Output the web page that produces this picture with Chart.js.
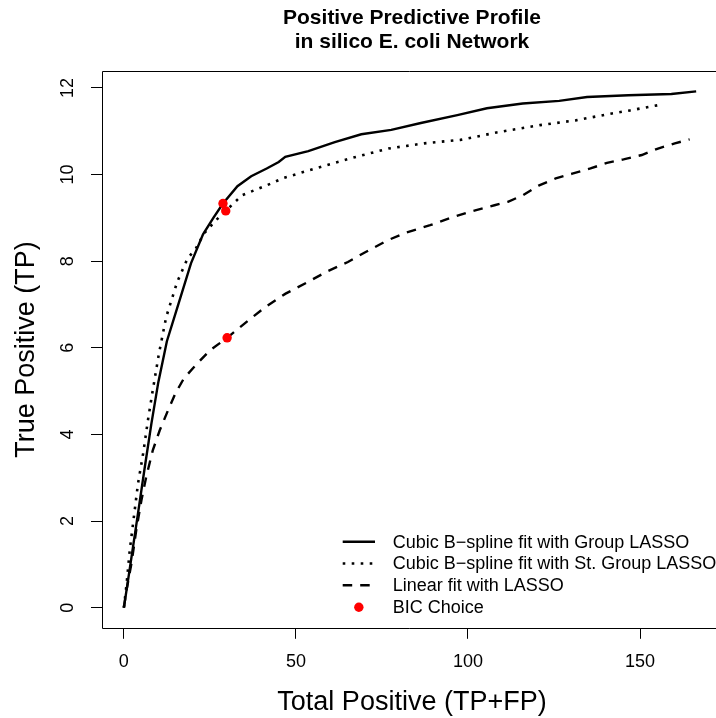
<!DOCTYPE html>
<html><head><meta charset="utf-8">
<script src="https://cdn.jsdelivr.net/npm/chart.js@4/dist/chart.umd.min.js"></script>
<style>html,body{margin:0;padding:0;background:#fff;overflow:hidden}canvas{display:block}</style>
</head><body>
<canvas id="c" width="716" height="718" style="width:716px;height:718px"></canvas>
<script>
const titleLines = ["Positive Predictive Profile", "in silico E. coli Network"];
const xTitle = "Total Positive (TP+FP)";
const yTitle = "True Positive (TP)";
const seriesNames = ["Cubic B\u2212spline fit with Group LASSO", "Cubic B\u2212spline fit with St. Group LASSO", "Linear fit with LASSO", "BIC Choice"];
const xTicks = [0, 50, 100, 150];
const yTicks = [0, 2, 4, 6, 8, 10, 12];

// Cubic B-spline fit with Group LASSO (solid)
const groupX = [0, 1, 2, 4, 6, 8, 10, 12.5, 16, 19.5, 23, 26, 28.8, 33, 37, 41.5, 45, 46.9, 53.6, 61.3, 69, 77.7, 86.3, 96.9, 105.5, 115.9, 126.5, 134.6, 146.6, 159.1, 166.3];
const groupY = [0, 0.52, 1.05, 2.12, 3.2, 4.25, 5.2, 6.15, 7.05, 7.95, 8.62, 9.0, 9.33, 9.73, 9.96, 10.14, 10.29, 10.41, 10.54, 10.75, 10.93, 11.03, 11.19, 11.37, 11.53, 11.64, 11.7, 11.79, 11.83, 11.86, 11.92];

// Cubic B-spline fit with St. Group LASSO (dotted)
const stGroupX = [0, 0.8, 1.7, 2.9, 4.1, 5.6, 7.0, 8.4, 10.2, 12.3, 15.5, 18.5, 20.9, 23.3, 26.7, 29.6, 34.3, 41.5, 46.4, 56.5, 66.6, 76.9, 87.3, 97.8, 108.3, 120.9, 131.3, 141.8, 147.1, 155.2];
const stGroupY = [0, 0.55, 1.32, 2.09, 2.86, 3.56, 4.33, 5.02, 5.87, 6.71, 7.52, 8.06, 8.29, 8.64, 8.94, 9.16, 9.52, 9.75, 9.92, 10.16, 10.39, 10.6, 10.72, 10.8, 10.97, 11.14, 11.25, 11.41, 11.48, 11.6];

// Linear fit with LASSO (dashed)
const lassoX = [0, 0.77, 2.2, 3.6, 5.1, 6.5, 8.4, 10.4, 12.75, 15, 17.5, 20.9, 25, 30.0, 36.3, 41.1, 47, 53.5, 59, 65.1, 70, 76.6, 82, 89.0, 95, 100.5, 107.7, 111.6, 115.9, 120.7, 125.5, 130.3, 135.6, 140.4, 145.2, 150.5, 155.2, 160.1, 164.4];
const lassoY = [0, 0.40, 1.02, 1.79, 2.48, 3.02, 3.63, 4.09, 4.54, 4.95, 5.3, 5.6, 5.94, 6.23, 6.64, 6.94, 7.25, 7.52, 7.76, 7.98, 8.2, 8.48, 8.66, 8.83, 9.0, 9.14, 9.29, 9.37, 9.52, 9.75, 9.91, 10.02, 10.14, 10.27, 10.35, 10.45, 10.6, 10.72, 10.81];

// BIC choices
const bicX = [28.8, 29.6, 30.0];
const bicY = [9.33, 9.16, 6.23];

const FONT = '"Liberation Sans", Arial, Helvetica, sans-serif';
const pts = (xs, ys) => xs.map((x, i) => ({x, y: ys[i]}));

const decor = {
  id: 'decor',
  afterDraw(chart) {
    const ctx = chart.ctx;
    const a = chart.chartArea;
    ctx.save();
    ctx.strokeStyle = '#000';
    ctx.lineWidth = 1;
    ctx.setLineDash([]);
    ctx.beginPath();
    ctx.moveTo(717, Math.round(a.top) + 0.5);
    ctx.lineTo(Math.round(a.left) + 0.5, Math.round(a.top) + 0.5);
    ctx.lineTo(Math.round(a.left) + 0.5, Math.round(a.bottom) + 0.5);
    ctx.lineTo(717, Math.round(a.bottom) + 0.5);
    ctx.stroke();

    ctx.fillStyle = '#000';
    ctx.textAlign = 'center';
    ctx.textBaseline = 'middle';
    ctx.font = 'bold 21px ' + FONT;
    ctx.fillText(titleLines[0], 412, 18);
    ctx.fillText(titleLines[1], 412, 42);

    ctx.font = '27px ' + FONT;
    ctx.fillText(xTitle, 412, 703);
    ctx.save();
    ctx.translate(27, 349.5);
    ctx.rotate(-Math.PI / 2);
    ctx.fillText(yTitle, 0, 0);
    ctx.restore();

    const rows = [541.7, 563.5, 585.3, 607.2];
    const x0 = 342.7, x1 = 375, tx = 392.7;
    ctx.font = '18px ' + FONT;
    ctx.textAlign = 'left';
    const ds = chart.data.datasets;
    for (let i = 0; i < 4; i++) {
      const d = ds.find(s => s.label === seriesNames[i]);
      const y = rows[i];
      if (i < 3) {
        ctx.strokeStyle = d.borderColor;
        ctx.lineWidth = d.borderWidth;
        ctx.lineCap = 'butt';
        ctx.setLineDash(d.borderDash || []);
        ctx.beginPath();
        ctx.moveTo(x0, y);
        ctx.lineTo(x1, y);
        ctx.stroke();
        ctx.setLineDash([]);
      } else {
        ctx.fillStyle = d.backgroundColor;
        ctx.beginPath();
        ctx.arc((x0 + x1) / 2, y, d.pointRadius, 0, Math.PI * 2);
        ctx.fill();
      }
      ctx.fillStyle = '#000';
      ctx.fillText(seriesNames[i], tx, y + 1);
    }
    ctx.restore();
  }
};

new Chart(document.getElementById('c'), {
  type: 'scatter',
  data: {
    datasets: [
      {label: seriesNames[3], data: pts(bicX, bicY), showLine: false, pointRadius: 4.7, pointHoverRadius: 4.7,
       backgroundColor: '#ff0000', borderColor: '#ff0000', borderWidth: 0},
      {label: seriesNames[0], data: pts(groupX, groupY), showLine: true, pointRadius: 0, borderColor: '#000',
       borderWidth: 2.4, borderDash: [], tension: 0, fill: false},
      {label: seriesNames[1], data: pts(stGroupX, stGroupY), showLine: true, pointRadius: 0, borderColor: '#000',
       borderWidth: 2.6, borderDash: [2.6, 6.4], tension: 0, fill: false},
      {label: seriesNames[2], data: pts(lassoX, lassoY), showLine: true, pointRadius: 0, borderColor: '#000',
       borderWidth: 2.4, borderDash: [9.5, 8], tension: 0, fill: false}
    ]
  },
  options: {
    responsive: false,
    animation: false,
    devicePixelRatio: 1,
    layout: {padding: {top: 70.7, left: 0, right: 0, bottom: 0}},
    plugins: {legend: {display: false}, title: {display: false}, tooltip: {enabled: false}},
    scales: {
      x: {
        type: 'linear', min: -6.5, max: 170.7,
        afterBuildTicks: s => { s.ticks = xTicks.map(v => ({value: v})); },
        afterFit: s => { s.height = 718 - 628.3; },
        grid: {drawOnChartArea: false, drawTicks: true, tickLength: 10.5, color: '#000', lineWidth: 1},
        border: {display: false},
        ticks: {color: '#000', font: {size: 18, family: FONT}, padding: 12.4, autoSkip: false, maxRotation: 0, minRotation: 0}
      },
      y: {
        type: 'linear', min: -0.477, max: 12.397,
        afterBuildTicks: s => { s.ticks = yTicks.map(v => ({value: v})); },
        afterFit: s => { s.width = 101.5; },
        grid: {drawOnChartArea: false, drawTicks: true, tickLength: 10.5, color: '#000', lineWidth: 1},
        border: {display: false},
        ticks: {color: '#000', font: {size: 18, family: FONT}, padding: 13, autoSkip: false,
                minRotation: 90, maxRotation: 90, crossAlign: 'center'}
      }
    }
  },
  plugins: [decor]
});
</script>
</body></html>
